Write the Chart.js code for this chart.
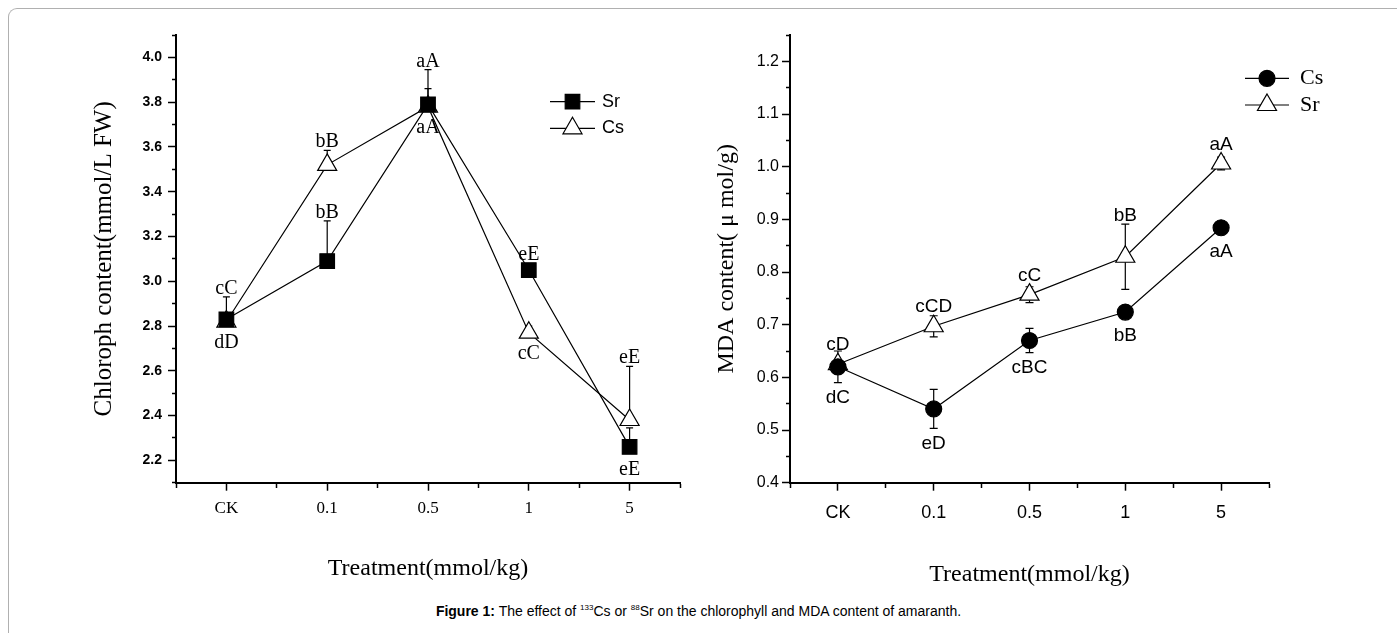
<!DOCTYPE html>
<html>
<head>
<meta charset="utf-8">
<script src="https://cdn.jsdelivr.net/npm/chart.js@4.4.1/dist/chart.umd.min.js"></script>
<style>
  html, body { margin: 0; padding: 0; background: #fff; }
  body { width: 1397px; height: 633px; position: relative; overflow: hidden; }
  #frame { position: absolute; left: 8px; top: 8px; width: 1400px; height: 640px;
    border-top: 1.5px solid #b0b0b0; border-left: 1.5px solid #b0b0b0; border-top-left-radius: 9px; }
  #left { position: absolute; left: 0; top: 0; }
  #right { position: absolute; left: 700px; top: 0; }
  #caption { position: absolute; left: 0; top: 603px; width: 1397px; text-align: center;
    font: 14px 'Liberation Sans', Arial, sans-serif; color: #000; }
  #caption sup { font-size: 8px; }
</style>
</head>
<body>
<div id="frame"></div>
<canvas id="left" width="700" height="595"></canvas>
<canvas id="right" width="697" height="595"></canvas>
<div id="caption"><b>Figure 1:</b> The effect of <sup>133</sup>Cs or <sup>88</sup>Sr on the chlorophyll and MDA content of amaranth.</div>
<script>
const doses = ['CK', '0.1', '0.5', '1', '5'];

// chlorophyll (mmol/L FW)
const chlSr = [2.83, 3.09, 3.79, 3.05, 2.26];
const chlSrErr = [0, 0.18, 0.155, 0, 0.085];
const chlSrTags = ['dD', 'bB', 'aA', 'eE', 'eE'];
const chlSrSide = ['down', 'up', 'up', 'up', 'down'];
const chlCs = [2.82, 3.52, 3.78, 2.77, 2.38];
const chlCsErr = [0.11, 0.065, 0.08, 0.03, 0.24];
const chlCsTags = ['cC', 'bB', 'aA', 'cC', 'eE'];
const chlCsSide = ['up', 'up', 'down', 'down', 'up'];
const chlYLabels = ['2.2', '2.4', '2.6', '2.8', '3.0', '3.2', '3.4', '3.6', '3.8', '4.0'];

// MDA (umol/g)
const mdaCs = [0.62, 0.54, 0.67, 0.724, 0.884];
const mdaCsErr = [0.03, 0.037, 0.023, 0, 0];
const mdaCsTags = ['dC', 'eD', 'cBC', 'bB', 'aA'];
const mdaCsSide = ['down', 'down', 'down', 'down', 'down'];
const mdaSr = [0.625, 0.697, 0.757, 0.829, 1.006];
const mdaSrErr = [0, 0.02, 0.015, 0.062, 0.012];
const mdaSrTags = ['cD', 'cCD', 'cC', 'bB', 'aA'];
const mdaSrSide = ['up', 'up', 'up', 'up', 'up'];
const mdaYLabels = ['0.4', '0.5', '0.6', '0.7', '0.8', '0.9', '1.0', '1.1', '1.2'];

const SERIF = "'Liberation Serif', 'Times New Roman', serif";
const SANS = "'Liberation Sans', Arial, sans-serif";

function pts(vals) {
  return vals.map((v, i) => ({ x: i, y: v }));
}

// vertical extent of a marker around its centre
function markerExtent(ds) {
  const r = ds.pointRadius;
  if (ds.pointStyle === 'triangle') return { up: r, down: r / 2 };
  if (ds.pointStyle === 'rect') return { up: r * Math.SQRT1_2, down: r * Math.SQRT1_2 };
  return { up: r, down: r };
}

const marks = {
  id: 'marks',
  beforeDatasetsDraw(chart, args, opts) {
    const ctx = chart.ctx, ys = chart.scales.y;
    ctx.save();
    ctx.strokeStyle = '#000';
    ctx.lineWidth = 1.2;
    chart.data.datasets.forEach((ds, i) => {
      const meta = chart.getDatasetMeta(i);
      ds.errors.forEach((e, j) => {
        if (!e) return;
        const p = meta.data[j];
        const top = ys.getPixelForValue(ds.data[j].y + e);
        const bot = opts.bothSides ? ys.getPixelForValue(ds.data[j].y - e) : p.y;
        ctx.beginPath();
        ctx.moveTo(p.x, top); ctx.lineTo(p.x, bot);
        ctx.moveTo(p.x - opts.cap, top); ctx.lineTo(p.x + opts.cap, top);
        if (opts.bothSides) { ctx.moveTo(p.x - opts.cap, bot); ctx.lineTo(p.x + opts.cap, bot); }
        ctx.stroke();
      });
    });
    ctx.restore();
  },
  afterDatasetsDraw(chart, args, opts) {
    const ctx = chart.ctx, ys = chart.scales.y;
    ctx.save();
    ctx.fillStyle = '#000';
    ctx.textAlign = 'center';
    ctx.font = opts.tagFont;
    chart.data.datasets.forEach((ds, i) => {
      const meta = chart.getDatasetMeta(i);
      const ext = markerExtent(ds);
      ds.tags.forEach((t, j) => {
        const p = meta.data[j];
        const e = ds.errors[j];
        if (ds.sides[j] === 'up') {
          let top = p.y - ext.up;
          if (e) top = Math.min(top, ys.getPixelForValue(ds.data[j].y + e));
          ctx.textBaseline = 'alphabetic';
          ctx.fillText(t, p.x, top - 3);
        } else {
          let bot = p.y + ext.down;
          if (e && opts.bothSides) bot = Math.max(bot, ys.getPixelForValue(ds.data[j].y - e));
          ctx.textBaseline = 'top';
          ctx.fillText(t, p.x, bot + 6);
        }
      });
    });
    // legend: line with marker through it
    const lg = opts.legend;
    chart.data.datasets.forEach((ds, k) => {
      const y = lg.y + k * lg.gap;
      ctx.strokeStyle = '#000';
      ctx.lineWidth = 1.2;
      ctx.beginPath();
      ctx.moveTo(lg.x, y); ctx.lineTo(lg.x + lg.w, y);
      ctx.stroke();
      ctx.fillStyle = ds.pointBackgroundColor;
      ctx.lineWidth = ds.pointBorderWidth;
      Chart.helpers.drawPoint(ctx, { pointStyle: ds.pointStyle, radius: ds.pointRadius,
        borderWidth: ds.pointBorderWidth, rotation: 0 }, lg.x + lg.w / 2, y);
      ctx.fillStyle = '#000';
      ctx.font = lg.font;
      ctx.textAlign = 'left';
      ctx.textBaseline = 'middle';
      ctx.fillText(ds.label, lg.x + lg.w + lg.pad, y);
    });
    ctx.restore();
  }
};

function series(label, vals, errs, tags, sides, style, radius, fill) {
  return {
    label: label, data: pts(vals), errors: errs, tags: tags, sides: sides,
    borderColor: '#000', borderWidth: 1.2, tension: 0,
    pointStyle: style, pointRadius: radius, pointBackgroundColor: fill,
    pointBorderColor: '#000', pointBorderWidth: 1.2
  };
}

function xAxis(tickFont, tickPad, height, titlePad) {
  return {
    type: 'linear', min: -0.5, max: 4.5,
    ticks: { stepSize: 0.5, autoSkip: false, maxRotation: 0, color: '#000', font: tickFont, padding: tickPad,
      callback: v => Number.isInteger(v) ? doses[v] : '' },
    grid: { drawOnChartArea: false, tickLength: 8, tickColor: '#000', tickWidth: 1.5,
      tickBorderDash: c => Number.isInteger(c.tick.value) ? [] : [4, 50] },
    border: { color: '#000', width: 2 },
    title: { display: true, text: 'Treatment(mmol/kg)', color: '#000',
      font: { family: SERIF, size: 24 }, padding: { top: 0, bottom: titlePad } },
    afterFit: s => { s.height = height; }
  };
}

function yAxis(min, max, step, labels, tickFont, tickPad, width, title, titleSize, titlePad) {
  return {
    type: 'linear', min: min, max: max,
    ticks: { stepSize: step, autoSkip: false, color: '#000', font: tickFont, padding: tickPad,
      callback: v => labels.find(l => Math.abs(Number(l) - v) < 1e-6) || '' },
    grid: { drawOnChartArea: false, tickLength: 8, tickColor: '#000', tickWidth: 1.5,
      tickBorderDash: c => labels.some(l => Math.abs(Number(l) - c.tick.value) < 1e-6) ? [] : [0, 4, 4, 50] },
    border: { color: '#000', width: 2 },
    title: { display: true, text: title, color: '#000',
      font: { family: SERIF, size: titleSize }, padding: { top: titlePad, bottom: 0 } },
    afterFit: s => { s.width = width; }
  };
}

const base = {
  responsive: false, animation: false, events: [],
  plugins: { legend: { display: false }, tooltip: { enabled: false } }
};

new Chart(document.getElementById('left'), {
  type: 'line',
  data: {
    datasets: [
      series('Sr', chlSr, chlSrErr, chlSrTags, chlSrSide, 'rect', 10.3, '#000'),
      series('Cs', chlCs, chlCsErr, chlCsTags, chlCsSide, 'triangle', 11, '#fff')
    ]
  },
  options: Object.assign({}, base, {
    layout: { padding: { left: 85, top: 35, right: 20, bottom: 0 } },
    scales: {
      x: xAxis({ family: SERIF, size: 17 }, 8, 112.3, 11.6),
      y: yAxis(2.1, 4.1, 0.1, chlYLabels, { family: SANS, size: 14, weight: 'bold' }, 6, 91,
        'Chloroph content(mmol/L FW)', 25, 4)
    },
    plugins: Object.assign({}, base.plugins, {
      marks: { cap: 3.5, bothSides: false, tagFont: '20px ' + SERIF,
        legend: { x: 550, y: 101.7, gap: 26.6, w: 45, pad: 7, font: '18px ' + SANS } }
    })
  }),
  plugins: [marks]
});

new Chart(document.getElementById('right'), {
  type: 'line',
  data: {
    datasets: [
      series('Cs', mdaCs, mdaCsErr, mdaCsTags, mdaCsSide, 'circle', 8, '#000'),
      series('Sr', mdaSr, mdaSrErr, mdaSrTags, mdaSrSide, 'triangle', 11, '#fff')
    ]
  },
  options: Object.assign({}, base, {
    layout: { padding: { left: 0, top: 35, right: 128, bottom: 0 } },
    scales: {
      x: xAxis({ family: SANS, size: 18 }, 12, 112.3, 5.6),
      y: yAxis(0.4, 1.25, 0.05, mdaYLabels, { family: SANS, size: 16 }, 3, 90,
        'MDA content( μ mol/g)', 24, 12.6)
    },
    plugins: Object.assign({}, base.plugins, {
      marks: { cap: 4, bothSides: true, tagFont: '19px ' + SANS,
        legend: { x: 545, y: 78.3, gap: 26.7, w: 44, pad: 11, font: '22px ' + SERIF } }
    })
  }),
  plugins: [marks]
});
</script>
</body>
</html>
